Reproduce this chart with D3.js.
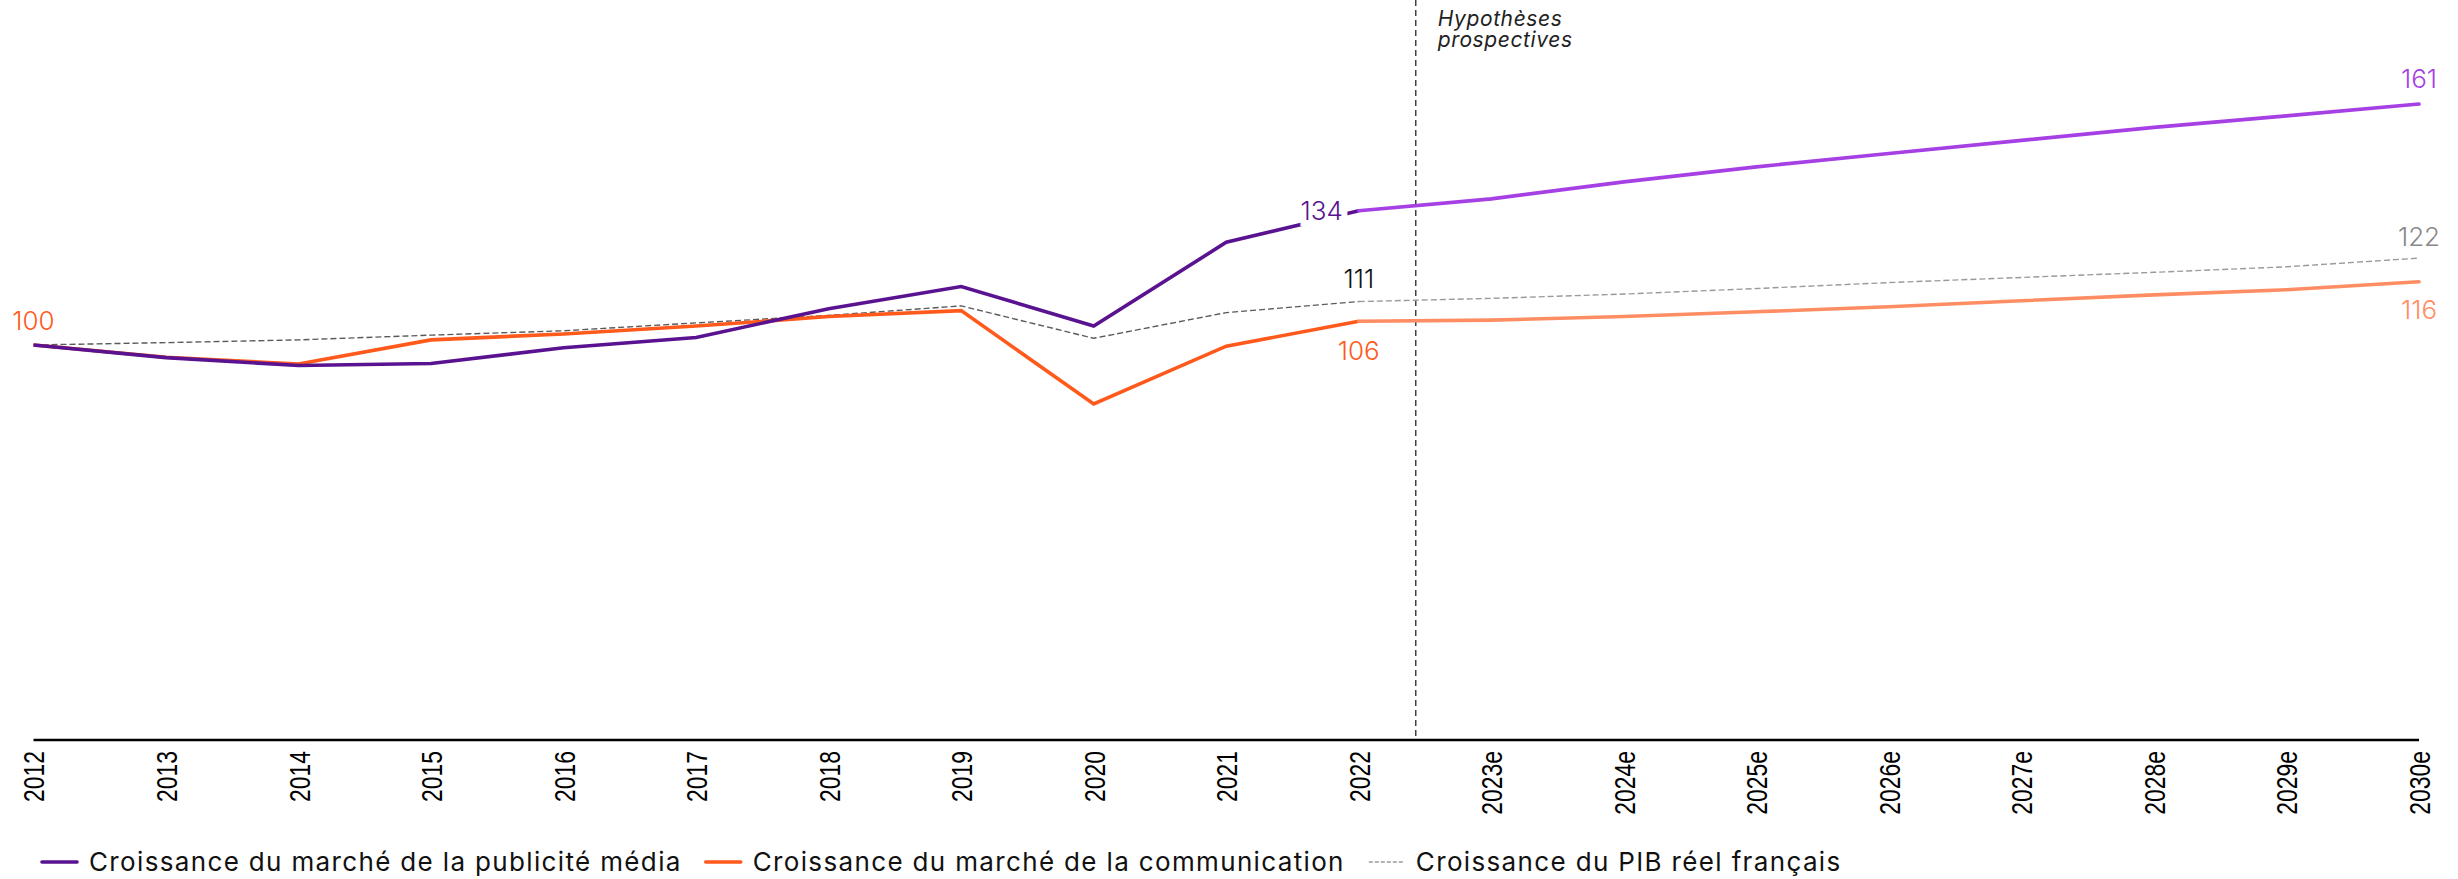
<!DOCTYPE html>
<html lang="fr">
<head>
<meta charset="utf-8">
<script src="https://cdn.jsdelivr.net/npm/d3@7"></script>
<style>
  html, body { margin: 0; padding: 0; background: #fff; }
  svg { display: block; font-family: Inter, "Open Sans", sans-serif; }
</style>
</head>
<body>
<svg id="chart" width="2458" height="879"></svg>
<script>
// Années (historiques puis estimations)
const years = ["2012","2013","2014","2015","2016","2017","2018","2019","2020","2021","2022",
               "2023e","2024e","2025e","2026e","2027e","2028e","2029e","2030e"];

// Indice base 100 en 2012
const mediaHist  = [100, 96.8, 94.8, 95.3, 99.3, 101.9, 109.2, 114.8, 104.8, 126, 134];
const mediaProj  = [134, 137, 141.3, 145.1, 148.5, 151.8, 155.1, 158, 161];
const commHist   = [100, 96.9, 95.2, 101.3, 102.8, 104.8, 107.2, 108.7, 85.1, 99.7, 106];
const commProj   = [106, 106.3, 107.2, 108.4, 109.7, 111.2, 112.7, 114, 116];
const gdpHist    = [100, 100.6, 101.3, 102.5, 103.6, 105.6, 107.5, 109.9, 101.7, 108.2, 111];
const gdpProj    = [111, 111.8, 112.9, 114.3, 115.8, 117.1, 118.4, 119.8, 122];

const histYears = years.slice(0, 11);
const projYears = years.slice(10);

const legendLabels = [
  "Croissance du marché de la publicité média",
  "Croissance du marché de la communication",
  "Croissance du PIB réel français"
];

const colors = {
  mediaDark: "#5a1390",
  mediaLight: "#a640e4",
  commDark: "#ff5a1c",
  commLight: "#ff8d64",
  gdpDark: "#5a5a5a",
  gdpLight: "#9a9a9a"
};

const svg = d3.select("#chart");
const x = d3.scalePoint().domain(years).range([33.5, 2419]);
const y = d3.scaleLinear().domain([0, 180]).range([740, 29]);

const line = d3.line().x(d => x(d.year)).y(d => y(d.value));
const zip = (ys, vs) => ys.map((yr, i) => ({ year: yr, value: vs[i] }));

// Séparation historique / hypothèses prospectives (entre 2022 et 2023e)
const splitX = x("2022") + 0.43 * x.step();
svg.append("line")
  .attr("x1", splitX).attr("x2", splitX)
  .attr("y1", 0).attr("y2", y(0))
  .attr("stroke", "#333").attr("stroke-width", 1.4)
  .attr("stroke-dasharray", "6,4");

svg.append("text")
  .attr("x", splitX + 22).attr("y", 26)
  .attr("font-size", 21).attr("font-style", "italic").attr("fill", "#222")
  .attr("letter-spacing", 0.6)
  .selectAll("tspan").data(["Hypothèses", "prospectives"]).join("tspan")
  .attr("x", splitX + 22).attr("dy", (d, i) => i === 0 ? 0 : 21)
  .text(d => d);

// Axe horizontal
const xAxis = svg.append("g")
  .attr("transform", `translate(0,${y(0)})`)
  .call(d3.axisBottom(x).tickSize(0).tickPadding(0));
xAxis.select(".domain").attr("stroke", "#000").attr("stroke-width", 2.5)
  .attr("d", `M${x.range()[0]},0H${x.range()[1]}`);
xAxis.selectAll("text")
  .attr("transform", "rotate(-90) scale(0.79,1)")
  .attr("x", -14).attr("y", 0).attr("dy", "0.36em")
  .attr("text-anchor", "end")
  .attr("font-size", 29).attr("font-weight", 500)
  .attr("fill", "#000");

// PIB (pointillés)
svg.append("path").datum(zip(histYears, gdpHist))
  .attr("d", line).attr("fill", "none")
  .attr("stroke", colors.gdpDark).attr("stroke-width", 1.4).attr("stroke-dasharray", "6,3");
svg.append("path").datum(zip(projYears, gdpProj))
  .attr("d", line).attr("fill", "none")
  .attr("stroke", colors.gdpLight).attr("stroke-width", 1.4).attr("stroke-dasharray", "6,3");

// Communication
svg.append("path").datum(zip(histYears, commHist))
  .attr("d", line).attr("fill", "none")
  .attr("stroke", colors.commDark).attr("stroke-width", 3.6).attr("stroke-linejoin", "miter");
svg.append("path").datum(zip(projYears, commProj))
  .attr("d", line).attr("fill", "none")
  .attr("stroke", colors.commLight).attr("stroke-width", 3.6).attr("stroke-linecap", "round");

// Publicité média
svg.append("path").datum(zip(histYears, mediaHist))
  .attr("d", line).attr("fill", "none")
  .attr("stroke", colors.mediaDark).attr("stroke-width", 3.6).attr("stroke-linejoin", "miter");
svg.append("path").datum(zip(projYears, mediaProj))
  .attr("d", line).attr("fill", "none")
  .attr("stroke", colors.mediaLight).attr("stroke-width", 3.6).attr("stroke-linecap", "round");

// Étiquettes de valeurs
const labels = [
  { year: "2012",  value: commHist[0],   color: colors.commDark,  dx: 0,   dy: -15, anchor: "middle", base: "auto" },
  { year: "2022",  value: mediaHist[10], color: colors.mediaDark, dx: -16, dy: 0,   anchor: "end",    base: "central", halo: true },
  { year: "2022",  value: gdpHist[10],   color: "#111",           dx: 0,   dy: -14, anchor: "middle", base: "auto" },
  { year: "2022",  value: commHist[10],  color: colors.commDark,  dx: 0,   dy: 39,  anchor: "middle", base: "auto" },
  { year: "2030e", value: mediaProj[8],  color: colors.mediaLight,dx: 0,   dy: -16, anchor: "middle", base: "auto" },
  { year: "2030e", value: gdpProj[8],    color: "#888",           dx: 0,   dy: -12, anchor: "middle", base: "auto" },
  { year: "2030e", value: commProj[8],   color: colors.commLight, dx: 0,   dy: 37,  anchor: "middle", base: "auto" }
];
svg.append("g").selectAll("text").data(labels).join("text")
  .attr("x", d => x(d.year) + d.dx)
  .attr("y", d => y(d.value) + d.dy)
  .attr("text-anchor", d => d.anchor)
  .attr("dominant-baseline", d => d.base)
  .attr("font-size", 26).attr("font-weight", 300)
  .attr("fill", d => d.color)
  .attr("stroke", d => d.halo ? "#fff" : "none")
  .attr("stroke-width", d => d.halo ? 12 : 0)
  .attr("paint-order", "stroke")
  .text(d => Math.round(d.value));

// Légende
const legendItems = [
  { label: legendLabels[0], color: colors.mediaDark, width: 3.6, dash: null },
  { label: legendLabels[1], color: colors.commDark,  width: 3.6, dash: null },
  { label: legendLabels[2], color: colors.gdpLight,  width: 1.4, dash: "4,2" }
];
const legend = svg.append("g").attr("transform", "translate(42,862)");
let cursor = 0;
legendItems.forEach(item => {
  const g = legend.append("g").attr("transform", `translate(${cursor},0)`);
  g.append("line").attr("x1", 0).attr("x2", 35).attr("y1", 0).attr("y2", 0)
    .attr("stroke", item.color).attr("stroke-width", item.width)
    .attr("stroke-linecap", item.dash ? "butt" : "round")
    .attr("stroke-dasharray", item.dash);
  const t = g.append("text").attr("x", 47).attr("y", 0).attr("dy", "0.35em")
    .attr("font-size", 26).attr("letter-spacing", 1.35).attr("fill", "#111").text(item.label);
  cursor += 47 + t.node().getComputedTextLength() + 24;
});
</script>
</body>
</html>
